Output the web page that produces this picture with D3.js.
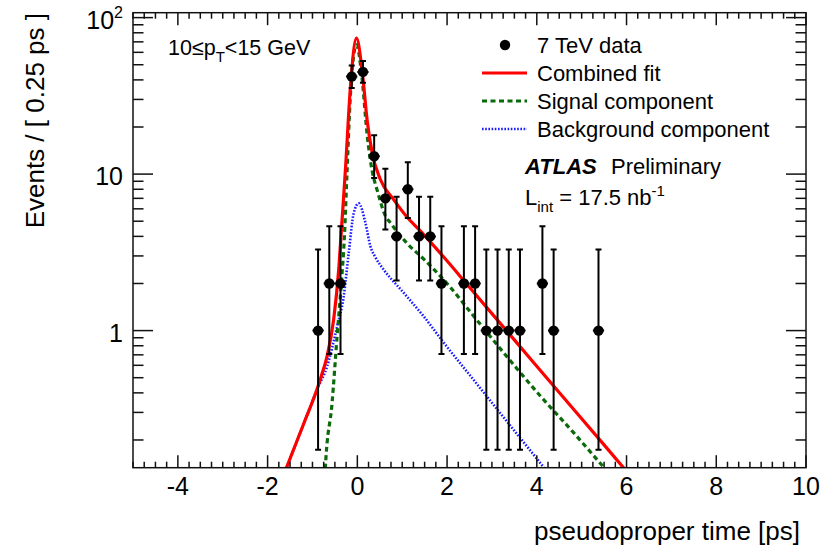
<!DOCTYPE html>
<html>
<head>
<meta charset="utf-8">
<style>
  body { margin: 0; background: #fff; }
  text { font-family: "Liberation Sans", Arial, Helvetica, sans-serif; fill: #000; }
</style>
</head>
<body>
<script src="https://cdnjs.cloudflare.com/ajax/libs/d3/7.8.5/d3.min.js"></script>
<script>
// ---- data ----
// bin centres (ps), 0.25 ps bins
var binCenters = [-0.875, -0.625, -0.375, -0.125, 0.125, 0.375, 0.625, 0.875, 1.125, 1.375, 1.625, 1.875,
                  2.375, 2.625, 2.875, 3.125, 3.375, 3.625, 4.125, 4.375, 5.375];
var counts     = [1, 2, 2, 42, 45, 13, 7, 4, 8, 4, 4, 2, 2, 2, 1, 1, 1, 1, 2, 1, 1];
// ends of the vertical error bars
var errLow  = [0.173, 0.708, 0.708, 35.5, 38.3, 9.45, 4.42, 2.09, 5.24, 2.09, 2.09, 0.708,
               0.708, 0.708, 0.173, 0.173, 0.173, 0.173, 0.708, 0.173, 0.173];
var errHigh = [3.30, 4.64, 4.64, 49.5, 52.8, 17.7, 10.8, 7.16, 11.9, 7.16, 7.16, 4.64,
               4.64, 4.64, 3.30, 3.30, 3.30, 3.30, 4.64, 3.30, 3.30];

// fit curves, [time, events]
var combinedFit = [[-1.65, 0.118], [-1.2, 0.252], [-0.9, 0.42], [-0.8, 0.515], [-0.675, 0.685],
                   [-0.527, 1.18], [-0.415, 2.45], [-0.34, 5.1], [-0.266, 10.6], [-0.154, 36],
                   [-0.02, 74], [0.107, 46], [0.219, 22], [0.33, 13.7], [0.516, 9.2], [0.806, 6.9],
                   [1.112, 5.3], [1.408, 4.32], [1.93, 2.94], [2.5, 1.89], [3.5, 0.872],
                   [4.5, 0.402], [5.5, 0.186], [6.2, 0.108]];
var signalComp  = [[-0.74, 0.09], [-0.712, 0.133], [-0.5625, 0.346], [-0.451, 0.92], [-0.362, 1.92],
                   [-0.288, 4.0], [-0.228, 10.6], [-0.154, 32], [-0.02, 67], [0.107, 40.5],
                   [0.219, 17.8], [0.33, 10.5], [0.442, 7.9], [0.627, 5.4], [0.739, 4.87],
                   [1.112, 3.6], [1.482, 2.86], [2.0, 2.0], [2.6, 1.23], [3.344, 0.676],
                   [4.087, 0.38], [4.83, 0.221], [5.5, 0.133], [5.8, 0.106]];
var backgroundComp = [[-1.65, 0.118], [-1.2, 0.252], [-0.9, 0.42], [-0.674, 0.59], [-0.451, 1.06],
                      [-0.304, 1.65], [-0.192, 3.13], [-0.08, 5.64], [0.031, 6.5], [0.181, 4.87],
                      [0.292, 3.45], [0.4, 2.95], [0.589, 2.45], [1.036, 1.74], [1.482, 1.23],
                      [1.929, 0.835], [2.5, 0.522], [3.0, 0.346], [3.5, 0.229], [4.0, 0.152],
                      [4.3, 0.118]];

var xMajorTicks = [-4, -2, 0, 2, 4, 6, 8, 10];
var yMajorTicks = [1, 10, 100];
var yTickLabels = ["1", "10", "10|2"];

var legendItems = ["7 TeV data", "Combined fit", "Signal component", "Background component"];

// ---- layout ----
var W = 832, H = 547;
var plotL = 133, plotR = 806, plotT = 12.7, plotB = 467.7;

var svg = d3.select("body").append("svg")
    .attr("width", W)
    .attr("height", H);

var x = d3.scaleLinear().domain([-5, 10]).range([plotL, plotR]);
var y = d3.scaleLog().domain([0.133, 107.5]).range([plotB, plotT]);

svg.append("defs").append("clipPath").attr("id", "plotclip")
   .append("rect")
   .attr("x", plotL).attr("y", plotT)
   .attr("width", plotR - plotL).attr("height", plotB - plotT);

var plot = svg.append("g").attr("clip-path", "url(#plotclip)");

// curves
var line = d3.line()
    .x(function (d) { return x(d[0]); })
    .y(function (d) { return y(d[1]); })
    .curve(d3.curveMonotoneX);

plot.append("path").datum(backgroundComp)
    .attr("d", line)
    .attr("fill", "none")
    .attr("stroke", "#1a1aff")
    .attr("stroke-width", 2.6)
    .attr("stroke-dasharray", "1.6,1.6");

plot.append("path").datum(signalComp)
    .attr("d", line)
    .attr("fill", "none")
    .attr("stroke", "#0b6b0b")
    .attr("stroke-width", 3.2)
    .attr("stroke-dasharray", "5,3.5");

plot.append("path").datum(combinedFit)
    .attr("d", line)
    .attr("fill", "none")
    .attr("stroke", "#ff0000")
    .attr("stroke-width", 3.2);

// data points with error bars
var halfBin = (x(0.25) - x(0)) / 2;
var pts = plot.selectAll("g.pt")
    .data(binCenters)
    .enter().append("g").attr("class", "pt");

pts.append("line")
   .attr("x1", function (d) { return x(d); })
   .attr("x2", function (d) { return x(d); })
   .attr("y1", function (d, i) { return y(errLow[i]); })
   .attr("y2", function (d, i) { return y(errHigh[i]); })
   .attr("stroke", "#000").attr("stroke-width", 2);
// small caps at the bar ends
pts.each(function (d, i) {
    var g = d3.select(this);
    [errLow[i], errHigh[i]].forEach(function (v) {
        g.append("line")
         .attr("x1", x(d) - 3).attr("x2", x(d) + 3)
         .attr("y1", y(v)).attr("y2", y(v))
         .attr("stroke", "#000").attr("stroke-width", 2);
    });
});
pts.append("line")
   .attr("x1", function (d) { return x(d) - halfBin; })
   .attr("x2", function (d) { return x(d) + halfBin; })
   .attr("y1", function (d, i) { return y(counts[i]); })
   .attr("y2", function (d, i) { return y(counts[i]); })
   .attr("stroke", "#000").attr("stroke-width", 2);
pts.append("circle")
   .attr("cx", function (d) { return x(d); })
   .attr("cy", function (d, i) { return y(counts[i]); })
   .attr("r", 5.2)
   .attr("fill", "#000");

// ---- frame and ticks ----
var axes = svg.append("g").attr("stroke", "#111").attr("stroke-width", 1.5);
axes.append("rect")
    .attr("x", plotL).attr("y", plotT)
    .attr("width", plotR - plotL).attr("height", plotB - plotT)
    .attr("fill", "none");

// x ticks, bottom and top
var xMinor = d3.range(-5, 10.001, 0.25).filter(function (v) { return xMajorTicks.indexOf(v) < 0; });
xMinor.forEach(function (v) {
    axes.append("line").attr("x1", x(v)).attr("x2", x(v)).attr("y1", plotB).attr("y2", plotB - 6);
    axes.append("line").attr("x1", x(v)).attr("x2", x(v)).attr("y1", plotT).attr("y2", plotT + 6);
});
xMajorTicks.forEach(function (v) {
    axes.append("line").attr("x1", x(v)).attr("x2", x(v)).attr("y1", plotB).attr("y2", plotB - 12.5);
    axes.append("line").attr("x1", x(v)).attr("x2", x(v)).attr("y1", plotT).attr("y2", plotT + 12.5);
});

// y ticks, left and right
var yMinor = [];
[0.1, 1, 10].forEach(function (dec) {
    for (var k = 2; k <= 9; k++) {
        var v = dec * k;
        if (v >= 0.133 && v <= 107.5) yMinor.push(v);
    }
});
yMinor.forEach(function (v) {
    axes.append("line").attr("x1", plotL).attr("x2", plotL + 10.5).attr("y1", y(v)).attr("y2", y(v));
    axes.append("line").attr("x1", plotR).attr("x2", plotR - 10.5).attr("y1", y(v)).attr("y2", y(v));
});
yMajorTicks.forEach(function (v) {
    axes.append("line").attr("x1", plotL).attr("x2", plotL + 20).attr("y1", y(v)).attr("y2", y(v));
    axes.append("line").attr("x1", plotR).attr("x2", plotR - 20).attr("y1", y(v)).attr("y2", y(v));
});

// tick labels
xMajorTicks.forEach(function (v) {
    svg.append("text")
       .attr("x", x(v)).attr("y", 495)
       .attr("text-anchor", "middle")
       .attr("font-size", 25)
       .text(v);
});
yMajorTicks.forEach(function (v, i) {
    var parts = yTickLabels[i].split("|");
    var t = svg.append("text")
       .attr("x", 123).attr("y", y(v) + 11)
       .attr("text-anchor", "end")
       .attr("font-size", 25);
    t.append("tspan").text(parts[0]);
    if (parts.length > 1) {
        t.append("tspan").attr("dy", -11).attr("font-size", 16).text(parts[1]);
    }
});

// axis titles
svg.append("text")
   .attr("x", 800).attr("y", 540)
   .attr("text-anchor", "end")
   .attr("font-size", 26)
   .text("pseudoproper time [ps]");

svg.append("text")
   .attr("transform", "translate(44,13) rotate(-90)")
   .attr("text-anchor", "end")
   .attr("font-size", 26)
   .text("Events / [ 0.25 ps ]");

// kinematic range label
var ptLabel = svg.append("text")
   .attr("x", 168).attr("y", 55)
   .attr("font-size", 21.5);
ptLabel.append("tspan").text("10\u2264p");
ptLabel.append("tspan").attr("dy", 7).attr("font-size", 15).text("T");
ptLabel.append("tspan").attr("dy", -7).text("<15 GeV");

// ---- legend ----
var legX = 482, legTextX = 537, legY = [45, 73, 101, 129];
svg.append("circle").attr("cx", 505).attr("cy", legY[0]).attr("r", 5.2).attr("fill", "#000");
svg.append("line").attr("x1", legX).attr("x2", 527).attr("y1", legY[1]).attr("y2", legY[1])
   .attr("stroke", "#ff0000").attr("stroke-width", 3.2);
svg.append("line").attr("x1", legX).attr("x2", 527).attr("y1", legY[2]).attr("y2", legY[2])
   .attr("stroke", "#0b6b0b").attr("stroke-width", 3.2).attr("stroke-dasharray", "5,3.5");
svg.append("line").attr("x1", legX).attr("x2", 527).attr("y1", legY[3]).attr("y2", legY[3])
   .attr("stroke", "#1a1aff").attr("stroke-width", 2.6).attr("stroke-dasharray", "1.6,1.6");
legendItems.forEach(function (s, i) {
    svg.append("text")
       .attr("x", legTextX).attr("y", legY[i] + 8)
       .attr("font-size", 22)
       .text(s);
});

// ATLAS label
var atlas = svg.append("text").attr("x", 525).attr("y", 174).attr("font-size", 22);
atlas.append("tspan").attr("font-weight", "bold").attr("font-style", "italic").text("ATLAS");
atlas.append("tspan").attr("x", 611).text("Preliminary");

var lumi = svg.append("text").attr("x", 525).attr("y", 205).attr("font-size", 22);
lumi.append("tspan").text("L");
lumi.append("tspan").attr("dy", 7).attr("font-size", 15).text("int");
lumi.append("tspan").attr("dy", -7).text(" = 17.5 nb");
lumi.append("tspan").attr("dy", -9).attr("font-size", 15).text("-1");
</script>
</body>
</html>
